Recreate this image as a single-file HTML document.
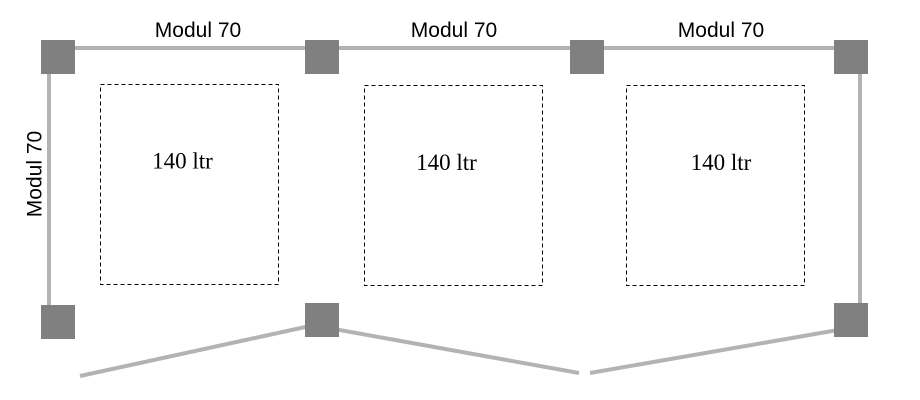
<!DOCTYPE html>
<html><head><meta charset="utf-8"><style>
html,body{margin:0;padding:0;background:#fff;}
svg{display:block;}
</style></head><body>
<svg width="920" height="400" viewBox="0 0 920 400" xmlns="http://www.w3.org/2000/svg">
<g stroke="#b3b3b3" stroke-width="4" fill="none">
<line x1="58" y1="48" x2="850" y2="48"/>
<line x1="49" y1="60" x2="49" y2="312"/>
<line x1="860" y1="60" x2="860" y2="310"/>
<line x1="80" y1="376" x2="310" y2="326"/>
<line x1="334" y1="329" x2="579" y2="373"/>
<line x1="590" y1="373" x2="838" y2="330"/>
</g>
<g fill="#808080">
<rect x="41" y="40" width="34" height="34"/>
<rect x="305" y="40" width="34" height="34"/>
<rect x="570" y="40" width="34" height="34"/>
<rect x="834" y="40" width="34" height="34"/>
<rect x="41" y="305" width="34" height="34"/>
<rect x="305" y="303" width="34" height="34"/>
<rect x="834" y="303" width="34" height="34"/>
</g>
<g stroke="#000" stroke-width="1" fill="none" stroke-dasharray="4,3">
<rect x="100.5" y="84.5" width="178" height="200"/>
<rect x="364.5" y="85.5" width="178" height="200"/>
<rect x="626.5" y="85.5" width="178" height="200"/>
</g>
<g font-family="'Liberation Sans', Arial, sans-serif" font-size="21" fill="#000" text-anchor="middle">
<text x="198" y="37">Modul 70</text>
<text x="454" y="37">Modul 70</text>
<text x="721" y="37">Modul 70</text>
<text x="0" y="0" transform="translate(41.5,174) rotate(-90)">Modul 70</text>
</g>
<g font-family="'Liberation Serif', 'Times New Roman', serif" font-size="23" fill="#000" text-anchor="middle">
<text x="182.5" y="168.5">140 ltr</text>
<text x="446.5" y="170">140 ltr</text>
<text x="721" y="170">140 ltr</text>
</g>
</svg>
</body></html>
